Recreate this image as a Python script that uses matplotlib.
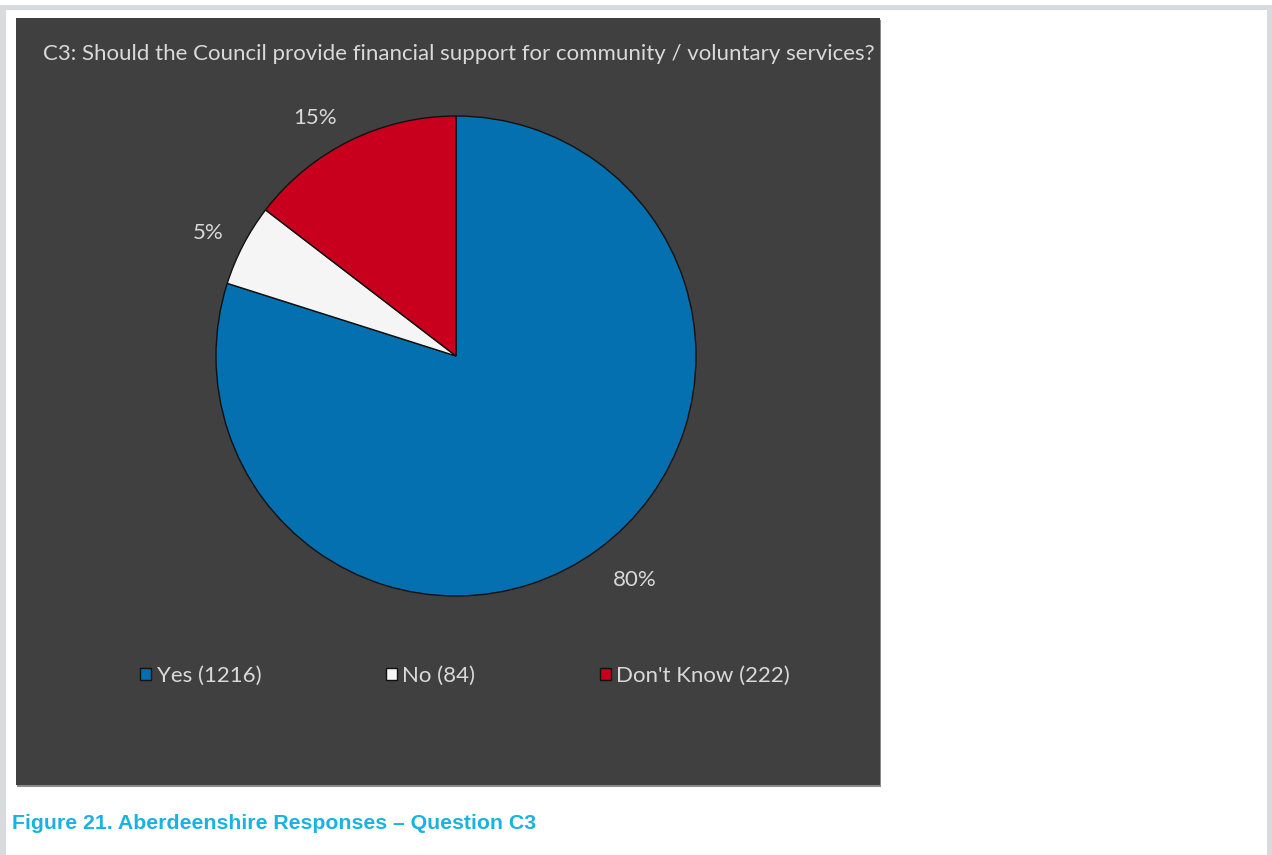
import matplotlib.pyplot as plt
from matplotlib.patches import Rectangle

# survey answers, question C3
answers = ["Yes", "No", "Don't Know"]
counts = [1216, 84, 222]
pct_labels = ["80%", "5%", "15%"]
colors = ["#0570b0", "#f5f5f5", "#c8001e"]

W, H = 1272, 855
fig = plt.figure(figsize=(W / 100, H / 100), dpi=100, facecolor="white")

def px_rect(x0, y0, x1, y1, color, z=0):
    # rectangle given in pixel coords measured from the top-left corner
    fig.patches.append(Rectangle((x0 / W, 1 - y1 / H), (x1 - x0) / W, (y1 - y0) / H,
                                 transform=fig.transFigure, facecolor=color,
                                 edgecolor="none", zorder=z))

# page frame
frame = "#d8dbde"
px_rect(0, 5, W, 10, frame)
px_rect(0, 5, 6, H, frame)
px_rect(1267, 5, W, H, frame)

# dark chart area with a faint drop shadow along the bottom
px_rect(17, 20, 881, 787, "#8a8a8a")
px_rect(16, 18, 880, 785, "#404040", z=1)

fig.text(43 / W, 1 - 54 / H,
         "C3: Should the Council provide financial support for community / voluntary services?",
         color="#d9d9d9", fontsize=16, family="Lato", va="center", ha="left", zorder=3)

cx, cy, r = 456, 356, 240
ax = fig.add_axes([(cx - r) / W, (H - cy - r) / H, 2 * r / W, 2 * r / H])
ax.set_zorder(2)
wedges, texts = ax.pie(counts, labels=pct_labels, colors=colors, startangle=90,
                       counterclock=False, labeldistance=1.17,
                       wedgeprops=dict(edgecolor="#111111", linewidth=1.0),
                       textprops=dict(color="#d9d9d9", fontsize=16, family="Lato"))
# nudge the data labels (pixels, +dy = down) to the best-fit spots
nudges = [(13, -3), (1, 7), (-17, 14)]
for t, (dx, dy) in zip(texts, nudges):
    x, y = t.get_position()
    t.set_position((x + dx / r, y - dy / r))
    t.set_ha("center")
    t.set_va("center")
ax.set_xlim(-1, 1)
ax.set_ylim(-1, 1)
ax.axis("off")

leg_labels = [f"{a} ({c})" for a, c in zip(answers, counts)]
leg = fig.legend(wedges, leg_labels, ncol=3, frameon=False,
                 loc="center", bbox_to_anchor=(465 / W, 1 - 676 / H),
                 handlelength=0.5, handleheight=0.5, handletextpad=0.25,
                 columnspacing=5.6, prop=dict(family="Lato", size=16))
for t in leg.get_texts():
    t.set_color("#d9d9d9")
leg.set_zorder(3)

fig.text(12 / W, 1 - 823 / H, "Figure 21. Aberdeenshire Responses \u2013 Question C3",
         color="#1ab2e2", fontsize=15.3, fontweight="bold", family="Liberation Sans",
         va="center", ha="left")

fig.savefig("out.png", dpi=100, facecolor="white")
